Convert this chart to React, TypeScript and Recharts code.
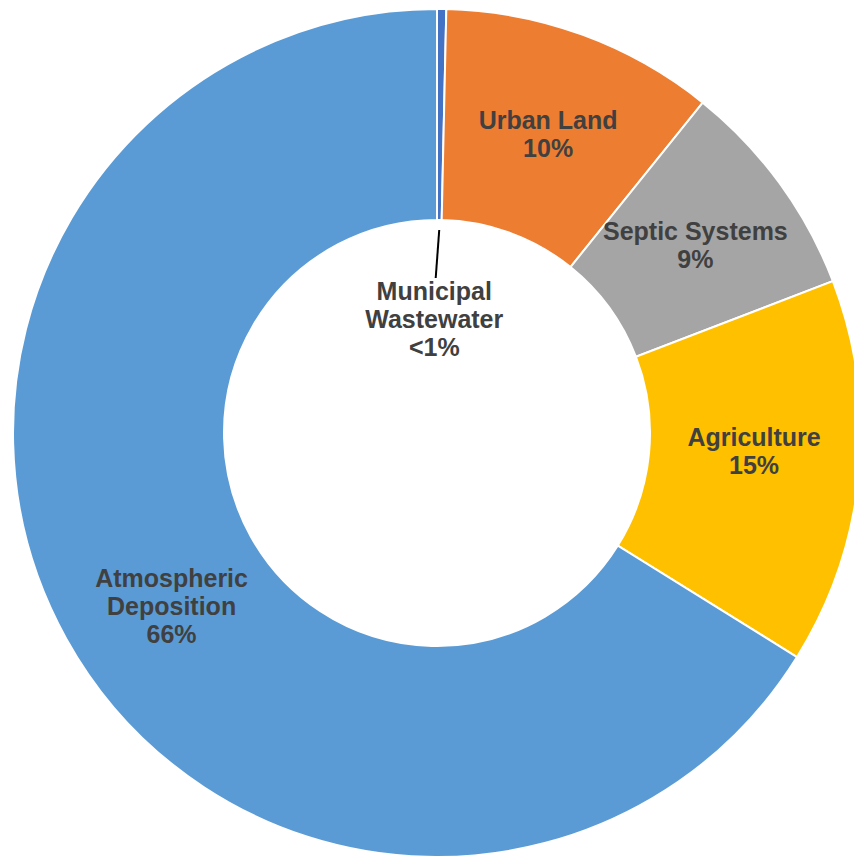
import React from "react";
import { PieChart, Pie, Cell } from "recharts";

const categories = [
  "Municipal Wastewater",
  "Urban Land",
  "Septic Systems",
  "Agriculture",
  "Atmospheric Deposition",
];
const values = [0.35, 10.43, 8.39, 14.69, 66.14];
const labelTexts = [
  ["Municipal", "Wastewater", "<1%"],
  ["Urban Land", "10%"],
  ["Septic Systems", "9%"],
  ["Agriculture", "15%"],
  ["Atmospheric", "Deposition", "66%"],
];
const colors = ["#4472C4", "#ED7D31", "#A5A5A5", "#FFC000", "#5B9BD5"];

const data = categories.map((name, i) => ({ name, value: values[i] }));

const RAD = Math.PI / 180;
const FONT = 25;
const LINE = 28;
const nudges: Record<number, [number, number]> = { 1: [2, 0], 2: [1, 0], 3: [0, -12], 4: [13, 18] };

const renderLabel = (props: any) => {
  const { cx, cy, midAngle, innerRadius, outerRadius, index } = props;
  const lines = labelTexts[index];
  const cosA = Math.cos(-midAngle * RAD);
  const sinA = Math.sin(-midAngle * RAD);
  const textStyle = {
    fontFamily: '"Liberation Sans", Arial, sans-serif',
    fontWeight: 700,
    fontSize: FONT,
    fill: "#404040",
  } as const;
  if (index === 0) {
    const r1 = innerRadius - 10;
    const r2 = innerRadius - 58;
    const rt = innerRadius - 99;
    const tx = cx + rt * cosA - 4;
    const ty = cy + rt * sinA;
    return (
      <g>
        <line
          x1={cx + r1 * cosA}
          y1={cy + r1 * sinA}
          x2={cx + r2 * cosA - 3}
          y2={cy + r2 * sinA}
          stroke="#000"
          strokeWidth={2}
        />
        <text x={tx} y={ty} textAnchor="middle" style={textStyle}>
          {lines.map((l, i) => (
            <tspan key={i} x={tx} y={ty - ((lines.length - 1) * LINE) / 2 + i * LINE + 9}>
              {l}
            </tspan>
          ))}
        </text>
      </g>
    );
  }
  const r = (innerRadius + outerRadius) / 2;
  const [ndx, ndy] = nudges[index] || [0, 0];
  const x = cx + r * cosA + ndx;
  const y = cy + r * sinA + ndy;
  return (
    <text x={x} y={y} textAnchor="middle" style={textStyle}>
      {lines.map((l, i) => (
        <tspan key={i} x={x} y={y - ((lines.length - 1) * LINE) / 2 + i * LINE + 9}>
          {l}
        </tspan>
      ))}
    </text>
  );
};

export default function App() {
  return (
    <div style={{ position: "absolute", left: 0, top: 0, background: "#fff" }}>
      <PieChart width={854} height={856} margin={{ top: 0, right: 0, bottom: 0, left: 0 }}>
        <Pie
          data={data}
          dataKey="value"
          nameKey="name"
          cx={437}
          cy={433}
          innerRadius={213}
          outerRadius={424}
          startAngle={90}
          endAngle={-270}
          stroke="#ffffff"
          strokeWidth={2}
          label={renderLabel}
          labelLine={false}
          isAnimationActive={false}
        >
          {data.map((d, i) => (
            <Cell key={d.name} fill={colors[i]} />
          ))}
        </Pie>
      </PieChart>
    </div>
  );
}
